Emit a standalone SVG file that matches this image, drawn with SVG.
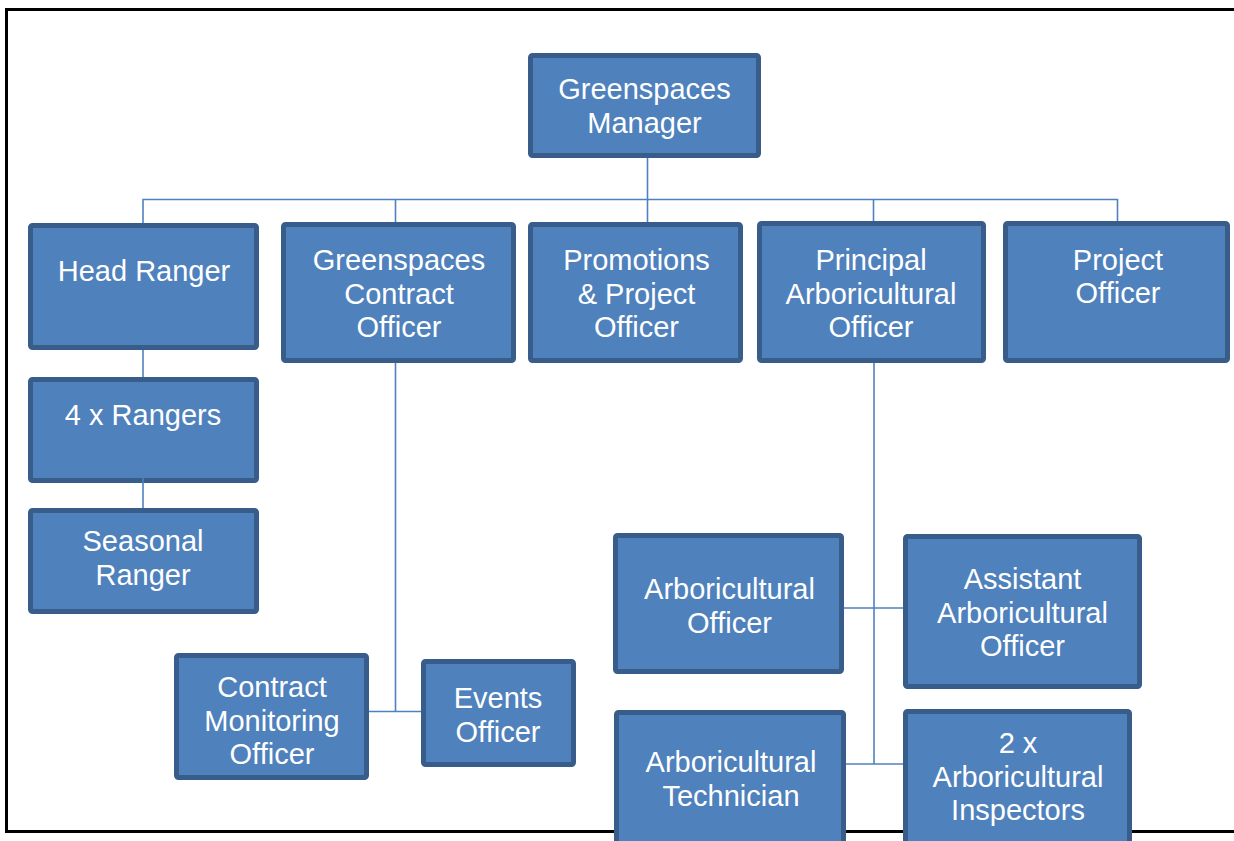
<svg xmlns="http://www.w3.org/2000/svg" width="1234" height="841" viewBox="0 0 1234 841">
  <style>
    .box { fill: #4F81BD; stroke: #385D8A; stroke-width: 5; }
    .lbl { font-family: "Liberation Sans", Arial, sans-serif; font-size: 29px; fill: #FFFFFF; text-anchor: middle; }
    .conn { stroke: #4F81BD; stroke-width: 1.6; fill: none; }
    .frame { stroke: #000000; stroke-width: 3; fill: none; }
  </style>
  <rect width="1234" height="841" fill="#FFFFFF"/>

  <!-- page frame (open on the right) -->
  <g id="frame">
    <path class="frame" d="M1234 9.5 H6.5 V831.5 H1234"/>
  </g>

  <!-- connectors -->
  <g id="connectors">
    <path class="conn" d="M647.5 158 V199.5"/>
    <path class="conn" d="M143 225 V199.5 H1117.5 V223"/>
    <path class="conn" d="M395.5 199.5 V224"/>
    <path class="conn" d="M647.5 199.5 V224"/>
    <path class="conn" d="M873.5 199.5 V223"/>
    <path class="conn" d="M143 350 V379"/>
    <path class="conn" d="M395.5 363 V711.5"/>
    <path class="conn" d="M367 711.5 H423"/>
    <path class="conn" d="M874 363 V764"/>
    <path class="conn" d="M844 608 H905"/>
    <path class="conn" d="M846 764 H905"/>
  </g>

  <g id="greenspaces-manager">
    <rect class="box" x="530.5" y="55.5" width="228" height="100" rx="2"/>
    <text class="lbl" x="644.5" y="99">Greenspaces</text>
    <text class="lbl" x="644.5" y="133">Manager</text>
  </g>

  <g id="head-ranger">
    <rect class="box" x="30.5" y="225.5" width="226" height="122" rx="2"/>
    <text class="lbl" x="144" y="281">Head Ranger</text>
  </g>

  <g id="greenspaces-contract-officer">
    <rect class="box" x="283.5" y="224.5" width="230" height="136" rx="2"/>
    <text class="lbl" x="399" y="270">Greenspaces</text>
    <text class="lbl" x="399" y="303.5">Contract</text>
    <text class="lbl" x="399" y="337">Officer</text>
  </g>

  <g id="promotions-project-officer">
    <rect class="box" x="530.5" y="224.5" width="210" height="136" rx="2"/>
    <text class="lbl" x="636.5" y="270">Promotions</text>
    <text class="lbl" x="636.5" y="303.5">&amp; Project</text>
    <text class="lbl" x="636.5" y="337">Officer</text>
  </g>

  <g id="principal-arboricultural-officer">
    <rect class="box" x="759.5" y="223.5" width="224" height="137" rx="2"/>
    <text class="lbl" x="871" y="270">Principal</text>
    <text class="lbl" x="871" y="303.5">Arboricultural</text>
    <text class="lbl" x="871" y="337">Officer</text>
  </g>

  <g id="project-officer">
    <rect class="box" x="1005.5" y="223.5" width="222" height="137" rx="2"/>
    <text class="lbl" x="1118" y="270">Project</text>
    <text class="lbl" x="1118" y="303">Officer</text>
  </g>

  <g id="rangers">
    <rect class="box" x="30.5" y="379.5" width="226" height="101" rx="2"/>
    <text class="lbl" x="143" y="424.5">4 x Rangers</text>
    <!-- link to seasonal ranger starts inside this box -->
    <path class="conn" d="M143 465 V510"/>
  </g>

  <g id="seasonal-ranger">
    <rect class="box" x="30.5" y="510.5" width="226" height="101" rx="2"/>
    <text class="lbl" x="143" y="551">Seasonal</text>
    <text class="lbl" x="143" y="585">Ranger</text>
  </g>

  <g id="contract-monitoring-officer">
    <rect class="box" x="176.5" y="655.5" width="190" height="122" rx="2"/>
    <text class="lbl" x="272" y="697">Contract</text>
    <text class="lbl" x="272" y="730.5">Monitoring</text>
    <text class="lbl" x="272" y="764">Officer</text>
  </g>

  <g id="events-officer">
    <rect class="box" x="423.5" y="661.5" width="150" height="103" rx="2"/>
    <text class="lbl" x="498" y="708">Events</text>
    <text class="lbl" x="498" y="742">Officer</text>
  </g>

  <g id="arboricultural-officer">
    <rect class="box" x="615.5" y="535.5" width="226" height="136" rx="2"/>
    <text class="lbl" x="729.5" y="598.5">Arboricultural</text>
    <text class="lbl" x="729.5" y="632.5">Officer</text>
  </g>

  <g id="assistant-arboricultural-officer">
    <rect class="box" x="905.5" y="536.5" width="234" height="150" rx="2"/>
    <text class="lbl" x="1022.5" y="588.5">Assistant</text>
    <text class="lbl" x="1022.5" y="622.5">Arboricultural</text>
    <text class="lbl" x="1022.5" y="656">Officer</text>
  </g>

  <g id="arboricultural-technician">
    <rect class="box" x="616.5" y="712.5" width="227" height="150" rx="2"/>
    <text class="lbl" x="731" y="771.5">Arboricultural</text>
    <text class="lbl" x="731" y="805.5">Technician</text>
  </g>

  <g id="arboricultural-inspectors">
    <rect class="box" x="905.5" y="711.5" width="224" height="150" rx="2"/>
    <text class="lbl" x="1018" y="752.5">2 x</text>
    <text class="lbl" x="1018" y="786.5">Arboricultural</text>
    <text class="lbl" x="1018" y="819.5">Inspectors</text>
  </g>
</svg>
